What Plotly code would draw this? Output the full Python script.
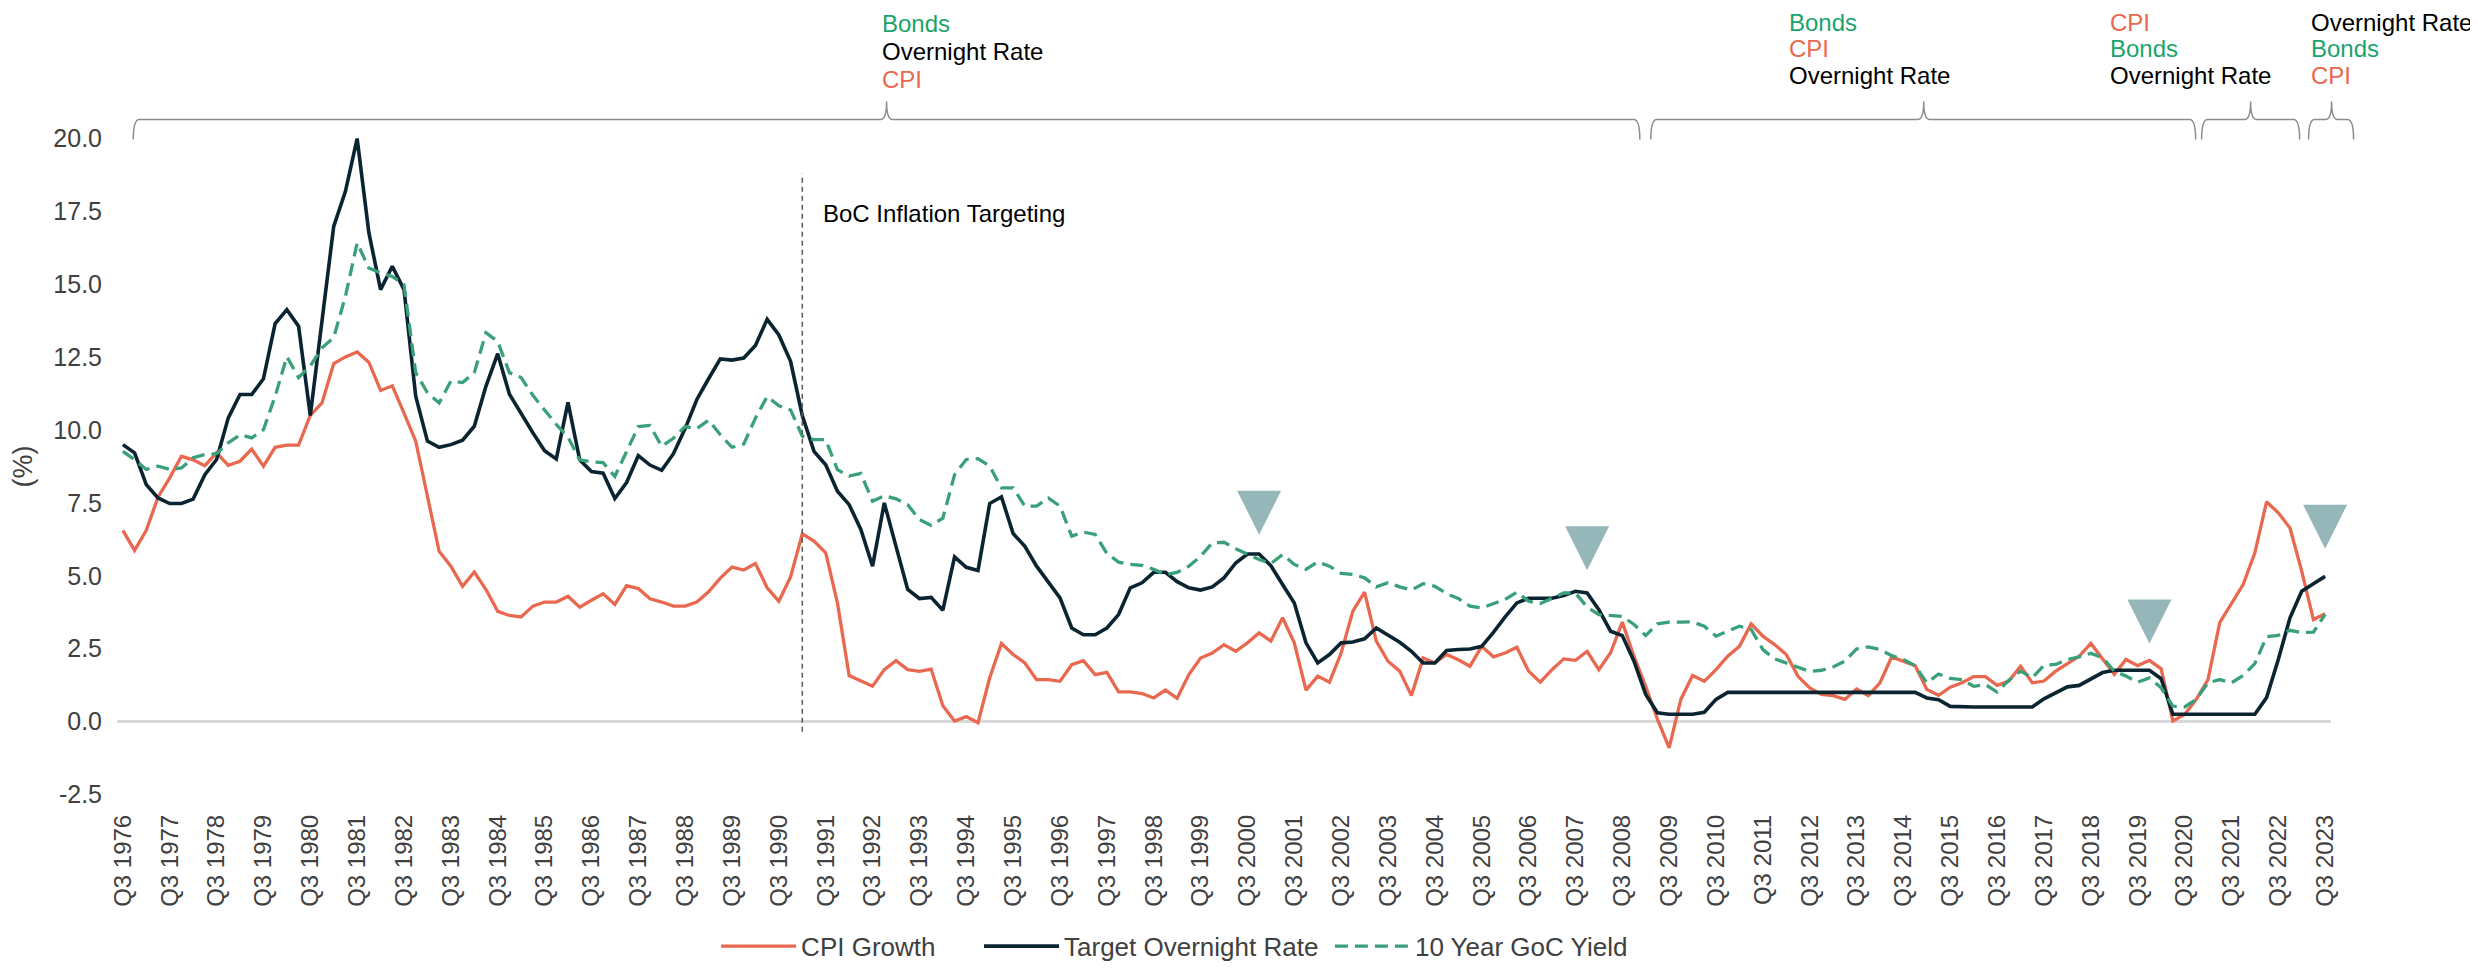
import plotly.graph_objects as go

# ---------------- data ----------------
quarters = []
for k in range(189):
    quarters.append("Q%d %d" % (((2 + k) % 4) + 1, 1976 + (2 + k) // 4))

cpi_growth = [
    6.56, 5.87, 6.56, 7.70, 8.36, 9.10, 8.98, 8.78, 9.22, 8.79,
    8.93, 9.35, 8.76, 9.41, 9.48, 9.48, 10.50, 10.93, 12.28, 12.51,
    12.68, 12.33, 11.36, 11.52, 10.58, 9.62, 7.73, 5.84, 5.33, 4.64,
    5.13, 4.53, 3.78, 3.64, 3.59, 3.96, 4.10, 4.10, 4.30, 3.92,
    4.16, 4.38, 4.02, 4.66, 4.56, 4.21, 4.10, 3.96, 3.96, 4.10,
    4.45, 4.92, 5.30, 5.20, 5.42, 4.59, 4.13, 4.96, 6.44, 6.19,
    5.79, 4.07, 1.58, 1.38, 1.21, 1.78, 2.09, 1.78, 1.72, 1.80,
    0.54, 0.02, 0.17, -0.04, 1.50, 2.68, 2.30, 2.01, 1.44, 1.44,
    1.38, 1.95, 2.09, 1.61, 1.69, 1.02, 1.02, 0.96, 0.81, 1.08,
    0.80, 1.61, 2.18, 2.35, 2.64, 2.41, 2.70, 3.04, 2.76, 3.56,
    2.70, 1.08, 1.56, 1.35, 2.35, 3.79, 4.44, 2.76, 2.07, 1.73,
    0.89, 2.18, 2.01, 2.30, 2.12, 1.90, 2.58, 2.22, 2.35, 2.55,
    1.73, 1.35, 1.78, 2.15, 2.10, 2.41, 1.78, 2.36, 3.41, 2.24,
    1.21, 0.08, -0.90, 0.76, 1.58, 1.38, 1.78, 2.24, 2.58, 3.35,
    2.93, 2.64, 2.30, 1.55, 1.15, 0.93, 0.89, 0.76, 1.12, 0.89,
    1.33, 2.22, 2.07, 1.92, 1.10, 0.90, 1.18, 1.33, 1.54, 1.54,
    1.24, 1.39, 1.90, 1.33, 1.39, 1.73, 1.99, 2.24, 2.68, 2.13,
    1.62, 2.13, 1.92, 2.10, 1.81, 0.02, 0.24, 0.76, 1.44, 3.39,
    4.07, 4.70, 5.79, 7.54, 7.16, 6.64, 5.16, 3.50, 3.70]

overnight_rate = [
    9.50, 9.22, 8.13, 7.67, 7.48, 7.48, 7.63, 8.47, 8.99, 10.42,
    11.22, 11.22, 11.76, 13.65, 14.13, 13.56, 10.50, 13.80, 16.99, 18.19,
    20.00, 16.77, 14.82, 15.62, 14.82, 11.16, 9.62, 9.41, 9.50, 9.65,
    10.13, 11.51, 12.62, 11.23, 10.55, 9.91, 9.29, 9.01, 10.95, 8.98,
    8.58, 8.52, 7.65, 8.20, 9.12, 8.80, 8.62, 9.19, 10.05, 11.05,
    11.76, 12.44, 12.40, 12.47, 12.90, 13.80, 13.26, 12.36, 10.50, 9.27,
    8.81, 7.90, 7.44, 6.59, 5.33, 7.50, 6.01, 4.53, 4.22, 4.26,
    3.82, 5.65, 5.29, 5.18, 7.48, 7.71, 6.45, 6.01, 5.33, 4.76,
    4.24, 3.21, 2.98, 2.98, 3.21, 3.67, 4.59, 4.76, 5.12, 5.12,
    4.80, 4.59, 4.51, 4.62, 4.93, 5.44, 5.75, 5.75, 5.35, 4.70,
    4.07, 2.70, 2.01, 2.30, 2.70, 2.73, 2.84, 3.21, 2.96, 2.72,
    2.41, 2.01, 2.01, 2.44, 2.47, 2.49, 2.58, 3.06, 3.59, 4.07,
    4.23, 4.23, 4.23, 4.32, 4.47, 4.41, 3.84, 3.10, 2.95, 2.07,
    0.93, 0.30, 0.25, 0.25, 0.25, 0.32, 0.76, 1.00, 1.00, 1.00,
    1.00, 1.00, 1.00, 1.00, 1.00, 1.00, 1.00, 1.00, 1.00, 1.00,
    1.00, 1.00, 1.00, 1.00, 0.81, 0.75, 0.52, 0.50, 0.50, 0.50,
    0.50, 0.50, 0.50, 0.50, 0.78, 0.98, 1.19, 1.24, 1.47, 1.68,
    1.76, 1.76, 1.76, 1.76, 1.47, 0.25, 0.25, 0.25, 0.25, 0.25,
    0.25, 0.25, 0.25, 0.82, 2.13, 3.56, 4.47, 4.73, 4.98]

goc_10y_yield = [
    9.27, 8.99, 8.65, 8.76, 8.65, 8.70, 9.05, 9.16, 9.19, 9.56,
    9.84, 9.73, 10.01, 11.16, 12.52, 11.80, 12.20, 12.82, 13.17, 14.59,
    16.42, 15.56, 15.39, 15.27, 14.99, 11.97, 11.28, 10.93, 11.68, 11.63,
    11.97, 13.34, 13.04, 11.97, 11.80, 11.19, 10.69, 10.19, 9.76, 8.98,
    8.91, 8.88, 8.41, 9.27, 10.12, 10.16, 9.44, 9.72, 10.12, 10.05,
    10.34, 9.84, 9.41, 9.52, 10.41, 11.15, 10.83, 10.69, 9.79, 9.67,
    9.67, 8.64, 8.42, 8.51, 7.56, 7.75, 7.64, 7.44, 6.93, 6.73,
    6.98, 8.47, 8.99, 9.02, 8.76, 8.02, 8.02, 7.39, 7.39, 7.67,
    7.39, 6.36, 6.50, 6.42, 5.77, 5.47, 5.39, 5.36, 5.22, 5.04,
    5.12, 5.33, 5.67, 6.13, 6.15, 5.93, 5.73, 5.56, 5.42, 5.73,
    5.39, 5.22, 5.48, 5.33, 5.08, 5.05, 4.93, 4.62, 4.76, 4.62,
    4.51, 4.73, 4.64, 4.39, 4.22, 3.96, 3.90, 4.05, 4.19, 4.44,
    4.13, 4.05, 4.24, 4.41, 4.41, 3.93, 3.67, 3.63, 3.61, 3.33,
    2.95, 3.35, 3.41, 3.41, 3.42, 3.27, 2.93, 3.10, 3.27, 3.16,
    2.47, 2.15, 2.01, 1.87, 1.72, 1.76, 1.87, 2.07, 2.49, 2.56,
    2.47, 2.26, 2.13, 1.92, 1.33, 1.63, 1.48, 1.44, 1.21, 1.27,
    1.01, 1.42, 1.73, 1.50, 1.93, 1.96, 2.13, 2.22, 2.34, 2.19,
    1.73, 1.56, 1.35, 1.50, 1.16, 0.53, 0.50, 0.76, 1.33, 1.44,
    1.33, 1.58, 1.99, 2.91, 2.96, 3.13, 3.05, 3.07, 3.68]

# peak markers (triangles)
marker_quarters = ["Q4 2000", "Q4 2007", "Q4 2019", "Q3 2023"]
marker_levels = [6.41, 5.19, 2.68, 5.93]

# inflation targeting start
targeting_quarter = "Q1 1991"
targeting_label = "BoC Inflation Targeting"

y_ticks = [-2.5, 0.0, 2.5, 5.0, 7.5, 10.0, 12.5, 15.0, 17.5, 20.0]
x_ticks = quarters[::4]

series_names = ["CPI Growth", "Target Overnight Rate", "10 Year GoC Yield"]

# regime labels above the chart (order of performance)
regime_labels = [
    ["Bonds", "Overnight Rate", "CPI"],
    ["Bonds", "CPI", "Overnight Rate"],
    ["CPI", "Bonds", "Overnight Rate"],
    ["Overnight Rate", "Bonds", "CPI"],
]

# ---------------- styling ----------------
W, H = 2478, 969          # browser window
OFF = 8                   # default body margin of the html page
L, R, T, B = 116.7, 146.6, 124.4, 159.5   # plot area in page pixels
PW = W - L - R
PH = H - T - B
BOT = T + PH

REG = "Liberation Sans, Arial, sans-serif"
C_CPI = "#E8694F"
C_RATE = "#0B2432"
C_BOND = "#39A079"
C_BOND_TXT = "#1AA36C"
C_TRI = "#95B7BA"
C_TXT = "#404040"
label_colors = {"Bonds": C_BOND_TXT, "CPI": C_CPI, "Overnight Rate": "#000000"}


def pxp(x):
    return (x - L) / PW


def pyp(y):
    return (BOT - y) / PH


fig = go.Figure()
fig.add_trace(go.Scatter(x=quarters, y=cpi_growth, name=series_names[0], mode="lines",
                         line=dict(color=C_CPI, width=3.3), legend="legend"))
fig.add_trace(go.Scatter(x=quarters, y=overnight_rate, name=series_names[1], mode="lines",
                         line=dict(color=C_RATE, width=3.6), legend="legend2"))
fig.add_trace(go.Scatter(x=quarters, y=goc_10y_yield, name=series_names[2], mode="lines",
                         line=dict(color=C_BOND, width=3.3, dash="13px,7px"), legend="legend3"))
fig.add_trace(go.Scatter(x=marker_quarters, y=marker_levels, mode="markers", showlegend=False,
                         cliponaxis=False,
                         marker=dict(symbol="arrow-down", size=44, color=C_TRI, line=dict(width=0))))

shapes = []
ti = quarters.index(targeting_quarter)
shapes.append(dict(type="line", xref="x", yref="y", x0=ti, x1=ti, y0=-0.35, y1=18.8,
                   line=dict(color="#595959", width=1.5, dash="5px,4px")))


def brace(x0, x1, xm, yb=120.0, ye=140.0, yt=102.0, r=6.0):
    pts = [
        ("M", [(x0, ye)]),
        ("Q", [(x0, yb), (x0 + r, yb)]),
        ("L", [(xm - r, yb)]),
        ("Q", [(xm, yb), (xm, yt)]),
        ("Q", [(xm, yb), (xm + r, yb)]),
        ("L", [(x1 - r, yb)]),
        ("Q", [(x1, yb), (x1, ye)]),
    ]
    s = ""
    for cmd, pp in pts:
        s += cmd + " ".join("%.5f,%.5f" % (pxp(a), pyp(b)) for a, b in pp) + " "
    return s.strip()


brace_spans = [(133, 1640, 886.5), (1651, 2196, 1924), (2202, 2300, 2251), (2309, 2354, 2332)]
for x0, x1, xm in brace_spans:
    shapes.append(dict(type="path", xref="paper", yref="paper", path=brace(x0, x1, xm),
                       line=dict(color="#8C8C8C", width=1.5)))

annotations = []
label_pos = [(882, [23.5, 51.7, 80.0]), (1789, [22.5, 48.5, 76.0]),
             (2110, [22.5, 48.5, 76.0]), (2311, [22.5, 48.5, 76.0])]
for (lx, ys), labels in zip(label_pos, regime_labels):
    for yy, lab in zip(ys, labels):
        annotations.append(dict(xref="paper", yref="paper", x=pxp(lx), y=pyp(yy), text=lab,
                                showarrow=False, xanchor="left", yanchor="middle",
                                borderpad=0, borderwidth=0,
                                font=dict(family=REG, size=24, color=label_colors[lab])))

annotations.append(dict(xref="x", yref="y", x=ti, y=17.43, xshift=19, text=targeting_label,
                        showarrow=False, xanchor="left", yanchor="middle",
                        font=dict(family=REG, size=24, color="#000000")))

leg_common = dict(orientation="h", xanchor="left", yanchor="middle", y=pyp(946.7),
                  font=dict(family=REG, size=26, color=C_TXT), itemwidth=75,
                  bgcolor="rgba(0,0,0,0)")
legend_x = [724, 987, 1338]

fig.update_layout(
    width=W - OFF, height=H - OFF,
    margin=dict(l=L - OFF, r=R, t=T - OFF, b=B, autoexpand=False),
    plot_bgcolor="white", paper_bgcolor="white",
    font=dict(family=REG, size=24, color=C_TXT),
    shapes=shapes, annotations=annotations,
    showlegend=True,
    legend=dict(x=pxp(legend_x[0] - 8), **leg_common),
    legend2=dict(x=pxp(legend_x[1] - 8), **leg_common),
    legend3=dict(x=pxp(legend_x[2] - 8), **leg_common),
    xaxis=dict(type="category", categoryorder="array", categoryarray=quarters,
               range=[-0.5, 188.5], tickmode="array", tickvals=x_ticks, ticktext=x_ticks,
               tickangle=-90, showgrid=False, showline=False, zeroline=False, ticks="",
               tickfont=dict(family=REG, size=24, color=C_TXT), automargin=False),
    yaxis=dict(range=[-3.0, 20.5], tickmode="array", tickvals=y_ticks,
               ticktext=["%.1f" % v for v in y_ticks], showgrid=False, showline=False,
               zeroline=True, zerolinecolor="#D9D9D9", zerolinewidth=2.5, ticks="",
               ticklabelstandoff=14,
               tickfont=dict(family=REG, size=25, color=C_TXT), automargin=False,
               title=dict(text="(%)", font=dict(family=REG, size=27, color=C_TXT), standoff=14)),
)

fig.write_html("out.html")
